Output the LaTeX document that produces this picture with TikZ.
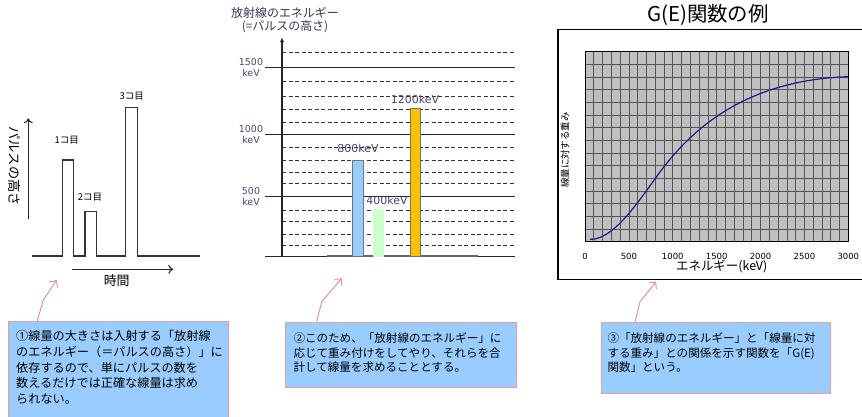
\documentclass[tikz,border=0pt]{standalone}
\usepackage{fontspec}
\newfontfamily\jp{Noto Sans CJK JP}
\newfontfamily\dv{DejaVu Sans}
\usetikzlibrary{arrows.meta,calc}
\definecolor{boxfill}{HTML}{99CCFF}
\definecolor{boxline}{HTML}{E0A0A0}
\definecolor{callarrow}{HTML}{DE8E8E}
\definecolor{labcol}{HTML}{46466E}
\definecolor{plotbg}{HTML}{C0C0C0}
\definecolor{gridc}{HTML}{555555}
\definecolor{curvec}{HTML}{1A1A8C}
\definecolor{barblue}{HTML}{99CCFF}
\definecolor{bargreen}{HTML}{CCFFCC}
\definecolor{barorange}{HTML}{FFC000}
\begin{document}
\begin{tikzpicture}[x=1bp,y=-1bp,
  cbox/.style={draw=boxline, line width=1.1bp, fill=boxfill, inner sep=0pt, anchor=north west},
  ctext/.style={inner sep=0pt, align=left, anchor=north west, font={\jp\fontsize{11.6}{14.5}\selectfont}},
  callout/.style={draw=callarrow, line width=0.9bp, -{Straight Barb[length=5bp,width=10bp]}},
  trace/.style={draw=black!80, line width=1.1bp},
  axarrow/.style={draw=black!85, line width=1.1bp, -{To[length=5bp,width=9bp]}},
  solidlev/.style={draw=black!85, line width=1bp},
  dashlev/.style={draw=black!80, line width=0.8bp, dash pattern=on 4bp off 2.5bp},
  barlab/.style={inner sep=0pt, text=labcol, font={\dv\fontsize{11}{13}\selectfont}},
  levlab/.style={inner sep=0pt, text=labcol, align=center, font={\dv\fontsize{9.5}{11}\selectfont}},
  pulselab/.style={inner sep=0pt, font={\jp\fontsize{9.5}{11}\selectfont}},
  tick/.style={inner sep=0pt, font={\dv\fontsize{8.5}{10}\selectfont}}
]
\useasboundingbox (0,0) rectangle (862,416);

% ---------------- left panel: pulses ----------------
\draw[trace] (32,256) -- (62.3,256) -- (62.3,160) -- (73.3,160) -- (73.3,256)
  -- (85,256) -- (85,211.7) -- (96.7,211.7) -- (96.7,256)
  -- (125.7,256) -- (125.7,107.7) -- (137.3,107.7) -- (137.3,256) -- (200,256);
\coordinate (ly0) at (28.3,219.3);
\coordinate (ly1) at (28.3,118.3);
\draw[axarrow] (ly0) -- (ly1);
\coordinate (lx0) at (71.7,269.3);
\coordinate (lx1) at (173.3,269.3);
\draw[axarrow] (lx0) -- (lx1);
\node[inner sep=0pt, rotate=-90, font={\jp\fontsize{13.3}{15}\selectfont}] (ylab) at (15,166) {パルスの高さ};
\node[inner sep=0pt, font={\jp\fontsize{13}{15}\selectfont}] (xlab) at (116.7,280.7) {時間};
\node[pulselab] (p1) at (66.7,140) {1コ目};
\node[pulselab] (p2) at (90,196.7) {2コ目};
\node[pulselab] (p3) at (131.7,95.7) {3コ目};

% ---------------- middle panel: energy levels ----------------
\foreach \yy in {52.7,81.7,96.3,109,122.3,147,160,172,183.7,210,221.3,234.3,245.7}
  \draw[dashlev] (282,\yy) -- (515,\yy);
\foreach \yy in {67.3,134.3,196.7,256.7}
  \draw[solidlev] (265,\yy) -- (515,\yy);
\coordinate (my0) at (282,256.7);
\coordinate (my1) at (282,37);
\draw[draw=black!85, line width=1.1bp, -{Latex[length=5bp,width=4bp]}] (my0) -- (my1);
\draw[draw=black!60, line width=1.6bp] (326.7,256) -- (478,256);
\draw[fill=barblue, draw=black!55, line width=0.5bp] (352.3,160) rectangle (363.3,256.7);
\draw[fill=bargreen, draw=none] (373,209.3) rectangle (384,256.7);
\draw[fill=barorange, draw=black!55, line width=0.5bp] (410,108.3) rectangle (420,256.7);
\node[inner sep=0pt, align=center, text=labcol!80!black, font={\jp\fontsize{12}{13}\selectfont}] (mtitle) at (285,20.5) {放射線のエネルギー\\(=パルスの高さ)};
\node[levlab] (l1500) at (251,67.2) {1500\\keV};
\node[levlab] (l1000) at (251,134.5) {1000\\keV};
\node[levlab] (l500) at (251,197) {500\\keV};
\node[barlab] (b800) at (358,148) {800keV};
\node[barlab] (b400) at (387,200) {400keV};
\node[barlab] (b1200) at (415,99) {1200keV};

% ---------------- right panel: G(E) ----------------
\node[inner sep=0pt, font={\jp\fontsize{20.5}{24}\selectfont}] (gtitle) at (708,15) {G(E)関数の例};
\draw[line width=1.1bp] (866,29.3) -- (558,29.3) -- (558,279.3) -- (866,279.3);
\fill[plotbg] (585,51.7) rectangle (848.3,241.7);
\foreach \i in {1,...,29}
  \draw[gridc, line width=0.6bp] ({585+\i*263.3/30},51.7) -- ++(0,190);
\foreach \j in {1,...,14}
  \draw[gridc, line width=0.6bp] (585,{51.7+\j*190/15}) -- ++(263.3,0);
\draw[line width=1bp] (585,51.7) rectangle (848.3,241.7);
\draw[curvec, line width=1.2bp] (590,239.3) -- (594,239.1)
  .. controls (617,235.5) and (640,199) .. (660,172)
  .. controls (695,124.75) and (750,80) .. (848,76.7);
\foreach \v in {0,500,1000,1500,2000,2500,3000}
  \node[tick] (tk\v) at ({585+\v/3000*263.3},256) {\v};
\node[inner sep=0pt, font={\jp\fontsize{12.5}{14}\selectfont}] (gx) at (721.7,266.7) {エネルギー(keV)};
\node[inner sep=0pt, rotate=90, font={\jp\fontsize{9.5}{11}\selectfont}] (gy) at (565,150) {線量に対する重み};

% ---------------- callouts ----------------
\node[cbox, minimum width=219.4bp, minimum height=110bp] (box1) at (8.3,321) {};
\node[ctext, font={\jp\fontsize{12.2}{15.7}\selectfont}] (t1) at (16,330.5) {①線量の大きさは入射する「放射線\\のエネルギー（＝パルスの高さ）」に\\依存するので、単にパルスの数を\\数えるだけでは正確な線量は求め\\られない。};
\node[cbox, minimum width=230.7bp, minimum height=65bp] (box2) at (285,321.7) {};
\node[ctext] (t2) at (293.3,332.5) {②このため、「放射線のエネルギー」に\\応じて重み付けをしてやり、それらを合\\計して線量を求めることとする。};
\node[cbox, minimum width=229.3bp, minimum height=71.6bp] (box3) at (600.7,321.7) {};
\node[ctext] (t3) at (607.3,332.5) {③「放射線のエネルギー」と「線量に対\\する重み」との関係を示す関数を「G(E)\\関数」という。};

\coordinate (a1b) at (43.3,300);
\coordinate (a1e) at (56.7,280);
\draw[callout] ($(box1.north west)+(29,0)$) -- (a1b) -- (a1e);
\coordinate (a2b) at (321.7,301.7);
\coordinate (a2e) at (341.7,278.3);
\draw[callout] ($(box2.north west)+(31.7,0)$) -- (a2b) -- (a2e);
\coordinate (a3b) at (640,301.7);
\coordinate (a3e) at (656,281.7);
\draw[callout] ($(box3.north west)+(34.3,0)$) -- (a3b) -- (a3e);
\end{tikzpicture}
\end{document}
